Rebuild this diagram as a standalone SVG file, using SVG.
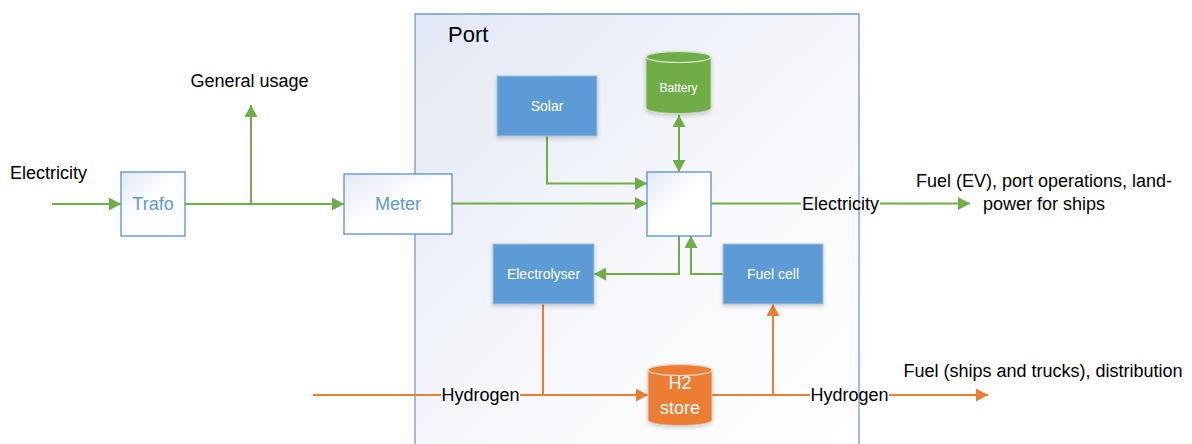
<svg xmlns="http://www.w3.org/2000/svg" width="1192" height="444" viewBox="0 0 1192 444">
<style>
.lbl{font-family:"Liberation Sans",Arial,sans-serif;font-size:18px;fill:#000}
.wt{font-family:"Liberation Sans",Arial,sans-serif;font-size:14px;fill:#fff;text-anchor:middle}
.bt{font-family:"Liberation Sans",Arial,sans-serif;font-size:18px;fill:#5b9bd5;text-anchor:middle}
.obox{fill:url(#gBox);stroke:#5b8fcf;stroke-width:1.3}
.fbox{fill:#5b9bd5;stroke:#a9bfd8;stroke-width:1;filter:url(#sh)}
.g{fill:none;stroke:#70ad47;stroke-width:2}
.o{fill:none;stroke:#ed7d31;stroke-width:2}
</style>
<defs>
<linearGradient id="gPort" x1="0" y1="0" x2="1" y2="1">
<stop offset="0" stop-color="#e2e8f4"/>
<stop offset="0.6" stop-color="#f8f9fc"/>
<stop offset="1" stop-color="#ffffff"/>
</linearGradient>
<linearGradient id="gBox" x1="0" y1="0" x2="1" y2="1">
<stop offset="0" stop-color="#e3e9f5"/>
<stop offset="0.5" stop-color="#ffffff"/>
<stop offset="1" stop-color="#ffffff"/>
</linearGradient>
<filter id="sh" x="-20%" y="-20%" width="140%" height="150%">
<feDropShadow dx="0" dy="2" stdDeviation="2" flood-color="#000" flood-opacity="0.18"/>
</filter>
<marker id="ag" markerUnits="userSpaceOnUse" markerWidth="13" markerHeight="13" refX="12" refY="6.5" orient="auto-start-reverse">
<path d="M0,0 L12,6.5 L0,13 z" fill="#70ad47"/>
</marker>
<marker id="ao" markerUnits="userSpaceOnUse" markerWidth="13" markerHeight="13" refX="12" refY="6.5" orient="auto-start-reverse">
<path d="M0,0 L12,6.5 L0,13 z" fill="#ed7d31"/>
</marker>
</defs>

<g id="port">
<path d="M415,444 V14 H859 V444" fill="url(#gPort)" stroke="#6a9bd3" stroke-width="1.3"/>
<text class="lbl" x="448" y="42" style="font-size:22px">Port</text>
</g>

<g id="connectors">
<path class="g" d="M52,204 H121" marker-end="url(#ag)"/>
<path class="g" d="M185,204 H344" marker-end="url(#ag)"/>
<path class="g" d="M251,204 V105" marker-end="url(#ag)"/>
<path class="g" d="M452,203.5 H647" marker-end="url(#ag)"/>
<path class="g" d="M547,136 V183.5 H647" marker-end="url(#ag)"/>
<path class="g" d="M679,115 V172" marker-start="url(#ag)" marker-end="url(#ag)"/>
<path class="g" d="M711,203.5 H801"/>
<path class="g" d="M880,203.5 H970" marker-end="url(#ag)"/>
<path class="g" d="M679,236 V274 H594" marker-end="url(#ag)"/>
<path class="g" d="M723,274 H691 V236" marker-end="url(#ag)"/>
<path class="o" d="M313,395 H441"/>
<path class="o" d="M520,395 H648" marker-end="url(#ao)"/>
<path class="o" d="M543,304 V395"/>
<path class="o" d="M712,395 H810"/>
<path class="o" d="M889,395 H988" marker-end="url(#ao)"/>
<path class="o" d="M773,395 V304" marker-end="url(#ao)"/>
</g>

<g id="labels">
<text class="lbl" x="10" y="179">Electricity</text>
<text class="lbl" x="249.5" y="87" text-anchor="middle">General usage</text>
<text class="lbl" x="840.5" y="210" text-anchor="middle">Electricity</text>
<text class="lbl" x="1044" y="187" text-anchor="middle">Fuel (EV), port operations, land-</text>
<text class="lbl" x="1044" y="210" text-anchor="middle">power for ships</text>
<text class="lbl" x="480.5" y="401" text-anchor="middle">Hydrogen</text>
<text class="lbl" x="849.5" y="401" text-anchor="middle">Hydrogen</text>
<text class="lbl" x="1043" y="377" text-anchor="middle">Fuel (ships and trucks), distribution</text>
</g>

<g id="trafo">
<rect class="obox" x="121" y="172" width="64" height="64"/>
<text class="bt" x="153" y="210">Trafo</text>
</g>

<g id="meter">
<rect class="obox" x="344" y="174" width="108" height="60"/>
<text class="bt" x="398" y="210">Meter</text>
</g>

<g id="hub">
<rect class="obox" x="647" y="172" width="64" height="64"/>
</g>

<g id="solar">
<rect class="fbox" x="497" y="76" width="100" height="60"/>
<text class="wt" x="547" y="111">Solar</text>
</g>

<g id="electrolyser">
<rect class="fbox" x="493" y="244" width="101" height="60"/>
<text class="wt" x="543.5" y="279">Electrolyser</text>
</g>

<g id="fuelcell">
<rect class="fbox" x="723" y="244" width="100" height="60"/>
<text class="wt" x="773" y="279">Fuel cell</text>
</g>

<g id="battery">
<path d="M646,57 V108 A32.5,5.5 0 0 0 711,108 V57 A32.5,5.5 0 0 0 646,57 Z" fill="#70ad47" stroke="#c9d6c0" stroke-width="1" style="filter:url(#sh)"/>
<ellipse cx="678.5" cy="57" rx="32.5" ry="5.5" fill="#70ad47" stroke="#dfe6da" stroke-width="1.2"/>
<text x="678.5" y="92" style="font-family:'Liberation Sans',Arial,sans-serif;font-size:12px;fill:#fff;text-anchor:middle">Battery</text>
</g>

<g id="h2store">
<path d="M648,370 V420 A32,5.5 0 0 0 712,420 V370 A32,5.5 0 0 0 648,370 Z" fill="#ed7d31" stroke="#d8c8bd" stroke-width="1" style="filter:url(#sh)"/>
<ellipse cx="680" cy="370" rx="32" ry="5.5" fill="#ed7d31" stroke="#e8dcd4" stroke-width="1.2"/>
<text x="680" y="389" style="font-family:'Liberation Sans',Arial,sans-serif;font-size:18px;fill:#fff;text-anchor:middle">H2</text>
<text x="680" y="414" style="font-family:'Liberation Sans',Arial,sans-serif;font-size:18px;fill:#fff;text-anchor:middle">store</text>
</g>
</svg>
